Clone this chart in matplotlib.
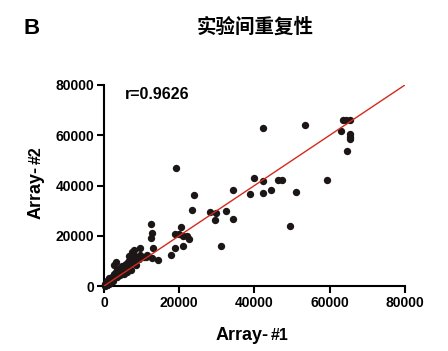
import matplotlib.pyplot as plt
import numpy as np

# values, in thousands
array1_k = [42.3, 53.3, 63.4, 64.4, 65.5, 63.0, 65.5, 65.5, 65.5, 64.5,
            59.3, 19.1, 39.9, 42.4, 46.3, 47.4, 34.3, 38.7, 42.4, 44.3,
            51.0, 49.4, 24.0, 23.3, 28.1, 29.9, 32.4, 29.6, 34.4, 31.2,
            12.5, 12.8, 12.6, 13.1, 20.4, 18.9, 19.9, 20.9, 22.0, 22.7,
            21.1, 18.9, 17.9, 12.9, 14.3, 9.7, 7.8, 6.7, 11.1,
            0.3, 0.5, 0.8, 1.0, 1.3, 1.2, 1.5, 1.8, 1.7, 2.0,
            2.2, 2.4, 2.7, 2.6, 3.0, 3.1, 3.3, 3.5, 3.8, 4.0,
            4.2, 4.5, 4.9, 4.6, 5.3, 5.5, 5.8, 6.0, 6.3, 6.6,
            6.9, 7.2, 7.5, 7.9, 8.3, 8.9, 9.4, 9.7, 10.6, 11.5,
            3.1, 2.8, 7.5, 8.0, 5.3, 7.1, 6.2, 8.5, 0.6, 0.9,
            1.1, 1.4, 2.1, 0.4, 1.6, 0.2, 0.7, 2.5, 3.6, 4.3]
array2_k = [62.95, 63.9, 65.9, 65.9, 65.9, 61.7, 60.4, 59.3, 58.4, 53.8,
            42.2, 47.1, 42.8, 41.7, 42.0, 42.2, 38.3, 36.6, 37.1, 38.1,
            37.5, 23.9, 36.1, 30.3, 29.5, 28.9, 29.8, 26.2, 26.7, 15.8,
            24.8, 21.1, 19.3, 15.3, 23.5, 20.8, 20.8, 20.1, 20.0, 18.8,
            16.0, 15.3, 12.2, 11.3, 10.5, 15.0, 12.8, 12.1, 11.7,
            0.2, 0.6, 0.4, 1.0, 0.9, 1.6, 1.8, 2.2, 2.8, 2.5,
            3.6, 3.0, 4.9, 3.8, 4.2, 5.6, 4.6, 6.2, 5.2, 6.9,
            5.8, 7.5, 8.0, 6.4, 7.2, 8.5, 8.9, 7.6, 9.4, 9.8,
            8.6, 10.0, 10.2, 10.9, 10.0, 11.5, 10.8, 12.2, 11.5, 12.4,
            9.6, 8.5, 13.5, 14.2, 4.9, 6.2, 5.5, 8.2, 1.2, 1.9,
            2.6, 3.2, 1.9, 0.9, 1.2, 0.5, 0.3, 2.2, 3.5, 4.4]
array1 = np.array(array1_k) * 1000
array2 = np.array(array2_k) * 1000

fit_slope = 1.0
fit_intercept = 0.0
r_value = 0.9626
ticks = [0, 20000, 40000, 60000, 80000]

plt.rcParams['font.family'] = ['Liberation Sans', 'DejaVu Sans']

W, H = 448, 351
fig = plt.figure(figsize=(W / 100, H / 100), dpi=100)
ax = fig.add_axes([0.232, 0.185, 0.672, 0.573])

ax.scatter(array1, array2, s=28, color="#1c1616", linewidths=0, clip_on=False, zorder=3)
line_x = np.array([0, 80000])
ax.plot(line_x, fit_slope * line_x + fit_intercept, color="#d42a1e", linewidth=1.0, zorder=4)

ax.set_xlim(0, 80000)
ax.set_ylim(0, 80000)
ax.set_xticks(ticks)
ax.set_yticks(ticks)
ax.set_xticklabels([str(t) for t in ticks], fontsize=10, fontweight="bold")
ax.set_yticklabels([str(t) for t in ticks], fontsize=10, fontweight="bold")
for side in ["top", "right"]:
    ax.spines[side].set_visible(False)
for side in ["left", "bottom"]:
    ax.spines[side].set_linewidth(1.5)
ax.tick_params(width=1.5, length=5, pad=2)

ax.text(0.07, 0.95, "r=%.4f" % r_value, transform=ax.transAxes,
        fontsize=11.5, fontweight="bold", va="center", ha="left")

# axis labels: "Array-" big, "#n" small, placed right after
renderer = fig.canvas.get_renderer()
t1 = fig.text(216 / W, 1 - 340.5 / H, "Array-", fontsize=13, fontweight="bold", va="baseline", ha="left")
ext = t1.get_window_extent(renderer)
fig.text((ext.x1 + 2) / W, 1 - 340.5 / H, "#1", fontsize=11.5, fontweight="bold", va="baseline", ha="left")

t2 = fig.text(40.5 / W, 1 - 219 / H, "Array-", fontsize=13, fontweight="bold", va="baseline", ha="left",
              rotation=90, rotation_mode="anchor")
ext = t2.get_window_extent(renderer)
fig.text(40.5 / W, (ext.y1 + 2) / H, "#2", fontsize=11.5, fontweight="bold", va="baseline", ha="left",
         rotation=90, rotation_mode="anchor")

fig.text(255 / W, 1 - 27 / H, "实验间重复性", family=["Noto Sans CJK SC", "DejaVu Sans"],
         fontsize=14, fontweight="bold", ha="center", va="center")
fig.text(23 / W, 1 - 29 / H, "B", fontsize=16, fontweight="bold", ha="left", va="center")

fig.savefig("out.png", dpi=100)
